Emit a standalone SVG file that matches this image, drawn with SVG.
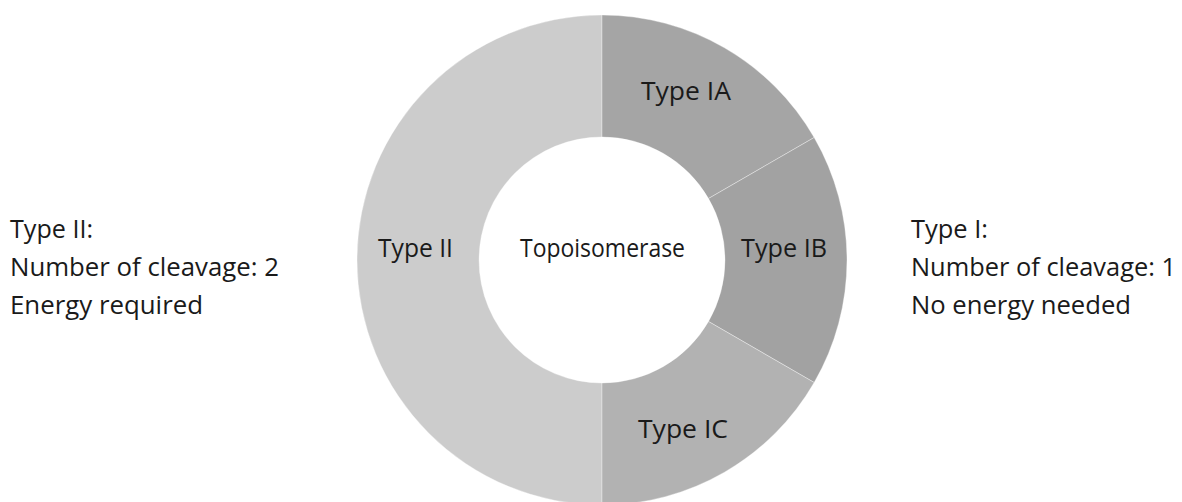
<svg xmlns="http://www.w3.org/2000/svg" width="1182" height="502" viewBox="0 0 1182 502">
<style>
.seg{stroke:#ffffff;stroke-opacity:0.35;stroke-width:1}
.t{font-family:"Open Sans","Noto Sans","Liberation Sans",sans-serif;font-size:25px;fill:#1a1a1a}
.m{text-anchor:middle}
</style>
<rect width="1182" height="502" fill="#ffffff"/>
<g id="type-ii">
<path class="seg" fill="#cccccc" d="M602 505A245 245 0 0 1 602 15L602 137A123 123 0 0 0 602 383Z"/>
<text class="t m" x="415.5" y="257" textLength="75" lengthAdjust="spacingAndGlyphs">Type II</text>
</g>
<g id="type-ia">
<path class="seg" fill="#a5a5a5" d="M602 15A245 245 0 0 1 814.18 137.5L708.52 198.5A123 123 0 0 0 602 137Z"/>
<text class="t m" x="686" y="100" textLength="90" lengthAdjust="spacingAndGlyphs">Type IA</text>
</g>
<g id="type-ib">
<path class="seg" fill="#a2a2a2" d="M814.18 137.5A245 245 0 0 1 814.18 382.5L708.52 321.5A123 123 0 0 0 708.52 198.5Z"/>
<text class="t m" x="784" y="257" textLength="86" lengthAdjust="spacingAndGlyphs">Type IB</text>
</g>
<g id="type-ic">
<path class="seg" fill="#b2b2b2" d="M814.18 382.5A245 245 0 0 1 602 505L602 383A123 123 0 0 0 708.52 321.5Z"/>
<text class="t m" x="683" y="438" textLength="90" lengthAdjust="spacingAndGlyphs">Type IC</text>
</g>
<g id="center">
<text class="t m" x="602.5" y="257" textLength="165" lengthAdjust="spacingAndGlyphs">Topoisomerase</text>
</g>
<g id="note-type-ii">
<text class="t" x="10" y="238" textLength="83" lengthAdjust="spacingAndGlyphs">Type II:</text>
<text class="t" x="10" y="276" textLength="269" lengthAdjust="spacingAndGlyphs">Number of cleavage: 2</text>
<text class="t" x="10" y="314" textLength="193" lengthAdjust="spacingAndGlyphs">Energy required</text>
</g>
<g id="note-type-i">
<text class="t" x="911" y="238" textLength="77" lengthAdjust="spacingAndGlyphs">Type I:</text>
<text class="t" x="911" y="276" textLength="265" lengthAdjust="spacingAndGlyphs">Number of cleavage: 1</text>
<text class="t" x="911" y="314" textLength="220" lengthAdjust="spacingAndGlyphs">No energy needed</text>
</g>
<g id="connectors"/>
</svg>
